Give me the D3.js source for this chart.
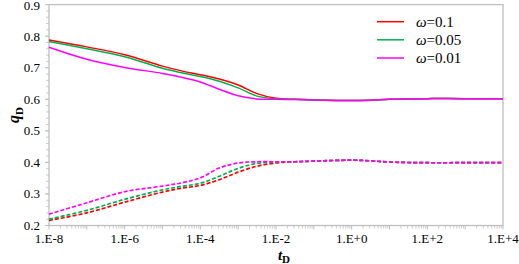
<!DOCTYPE html>
<html>
<head>
<meta charset="utf-8">
<script src="https://cdn.jsdelivr.net/npm/d3@7"></script>
<style>
	body { margin: 0; background: #fff; }
</style>
</head>
<body>
<svg id="chart" width="519" height="264"></svg>
<script>
// log10 of t_D where values were read
var log_t = [-8, -7, -6, -5, -4.5, -4, -3.5, -3, -2.5, -2, -1.5, -1, 0, 0.5, 1, 2, 3, 4];

var labels = ['ω=0.1', 'ω=0.05', 'ω=0.01'];
var colors = ['#ff0000', '#00b050', '#ff00ff'];

// solid curves (upper group)
var solid_01  = [0.788, 0.766, 0.741, 0.705, 0.690, 0.678, 0.664, 0.645, 0.618, 0.603, 0.600, 0.598, 0.596, 0.597, 0.600, 0.602, 0.602, 0.602];
var solid_005 = [0.783, 0.760, 0.735, 0.698, 0.684, 0.672, 0.657, 0.636, 0.610, 0.601, 0.600, 0.598, 0.596, 0.597, 0.600, 0.602, 0.602, 0.602];
var solid_001 = [0.765, 0.727, 0.701, 0.682, 0.670, 0.655, 0.632, 0.611, 0.601, 0.600, 0.599, 0.598, 0.596, 0.597, 0.600, 0.602, 0.602, 0.602];

// dashed curves (lower group)
var dash_01  = [0.216, 0.240, 0.274, 0.306, 0.318, 0.327, 0.345, 0.369, 0.388, 0.398, 0.402, 0.404, 0.407, 0.405, 0.401, 0.399, 0.399, 0.399];
var dash_005 = [0.220, 0.248, 0.283, 0.313, 0.324, 0.334, 0.356, 0.381, 0.397, 0.401, 0.402, 0.404, 0.407, 0.405, 0.401, 0.399, 0.399, 0.399];
var dash_001 = [0.236, 0.272, 0.307, 0.325, 0.335, 0.351, 0.382, 0.398, 0.402, 0.402, 0.402, 0.404, 0.407, 0.405, 0.401, 0.399, 0.399, 0.399];

var x_ticks = [-8, -6, -4, -2, 0, 2, 4];
var x_tick_labels = ['1.E-8', '1.E-6', '1.E-4', '1.E-2', '1.E+0', '1.E+2', '1.E+4'];
var y_ticks = [0.2, 0.3, 0.4, 0.5, 0.6, 0.7, 0.8, 0.9];

var font = '"Liberation Serif", "DejaVu Serif", "Times New Roman", serif';
var svg = d3.select('#chart');
var left = 49, right = 503, top_ = 4.6, bottom = 225.5;
var axis_color = '#bfbfbf';

var x_scale = d3.scaleLog().domain([1e-8, 1e4]).range([left, right]);
var y_scale = d3.scaleLinear().domain([0.2, 0.9]).range([bottom, top_]);

// frame
svg.append('rect').attr('x', left).attr('y', top_).attr('width', right-left).attr('height', bottom-top_)
	.attr('fill', 'none').attr('stroke', axis_color).attr('stroke-width', 1.3);

// x ticks: majors at each decade, minors 2..9
var x_major = d3.range(-8, 5).map(d => Math.pow(10, d));
var x_minor = [];
for(var e = -8; e < 4; e++)
	for(var m = 2; m < 10; m++)
		x_minor.push(m*Math.pow(10, e));
svg.selectAll('.xmaj').data(x_major).enter().append('line')
	.attr('x1', d => x_scale(d)).attr('x2', d => x_scale(d)).attr('y1', bottom).attr('y2', bottom+4)
	.attr('stroke', axis_color).attr('stroke-width', 1);
svg.selectAll('.xmin').data(x_minor).enter().append('line')
	.attr('x1', d => x_scale(d)).attr('x2', d => x_scale(d)).attr('y1', bottom).attr('y2', bottom+3)
	.attr('stroke', axis_color).attr('stroke-width', 0.8);
svg.selectAll('.xlab').data(x_ticks).enter().append('text')
	.attr('x', d => x_scale(Math.pow(10, d))).attr('y', 243)
	.attr('text-anchor', 'middle').attr('font-family', font).attr('font-size', 13).attr('fill', '#000')
	.text((d, i) => x_tick_labels[i]);

// y ticks: majors 0.1, minors 0.02
var y_minor = d3.range(0, 36).map(i => 0.2 + i*0.02);
svg.selectAll('.ymin').data(y_minor).enter().append('line')
	.attr('x1', left-3).attr('x2', left).attr('y1', d => y_scale(d)).attr('y2', d => y_scale(d))
	.attr('stroke', axis_color).attr('stroke-width', 0.8);
svg.selectAll('.ymaj').data(y_ticks).enter().append('line')
	.attr('x1', left-4).attr('x2', left).attr('y1', d => y_scale(d)).attr('y2', d => y_scale(d))
	.attr('stroke', axis_color).attr('stroke-width', 1);
svg.selectAll('.ylab').data(y_ticks).enter().append('text')
	.attr('x', 40).attr('y', d => Math.max(y_scale(d)+4.5, 10))
	.attr('text-anchor', 'end').attr('font-family', font).attr('font-size', 13).attr('fill', '#000')
	.text(d => d.toFixed(1));

// axis titles
var ylab = svg.append('text').attr('transform', 'translate(19,' + 115 + ') rotate(-90)')
	.attr('text-anchor', 'middle').attr('font-family', font).attr('font-size', 16).attr('font-weight', 'bold');
ylab.append('tspan').attr('font-style', 'italic').text('q');
ylab.append('tspan').attr('font-size', 11).attr('dy', 4).text('D');

var xlab = svg.append('text').attr('x', 284).attr('y', 260)
	.attr('text-anchor', 'middle').attr('font-family', font).attr('font-size', 15).attr('font-weight', 'bold');
xlab.append('tspan').attr('font-style', 'italic').text('t');
xlab.append('tspan').attr('font-size', 11).attr('dy', 3).text('D');

// curves
var line_gen = d3.line()
	.x((d, i) => x_scale(Math.pow(10, log_t[i])))
	.y(d => y_scale(d))
	.curve(d3.curveCatmullRom.alpha(0.5));

var solid_series = [solid_01, solid_005, solid_001];
var dash_series = [dash_01, dash_005, dash_001];

dash_series.forEach(function(s, i)  {
	svg.append('path').attr('d', line_gen(s)).attr('fill', 'none')
		.attr('stroke', colors[i]).attr('stroke-width', 1.7).attr('stroke-dasharray', '4,2');
});
solid_series.forEach(function(s, i)  {
	svg.append('path').attr('d', line_gen(s)).attr('fill', 'none')
		.attr('stroke', colors[i]).attr('stroke-width', 1.5);
});

// legend
var leg_y = [21.7, 39.8, 58];
labels.forEach(function(lab, i)  {
	svg.append('line').attr('x1', 377).attr('x2', 404).attr('y1', leg_y[i]).attr('y2', leg_y[i])
		.attr('stroke', colors[i]).attr('stroke-width', 1.5);
	var t = svg.append('text').attr('x', 416).attr('y', leg_y[i]+5).attr('font-family', font).attr('font-size', 15);
	t.append('tspan').attr('font-style', 'italic').text('ω');
	t.append('tspan').text(lab.slice(1));
});
</script>
</body>
</html>
